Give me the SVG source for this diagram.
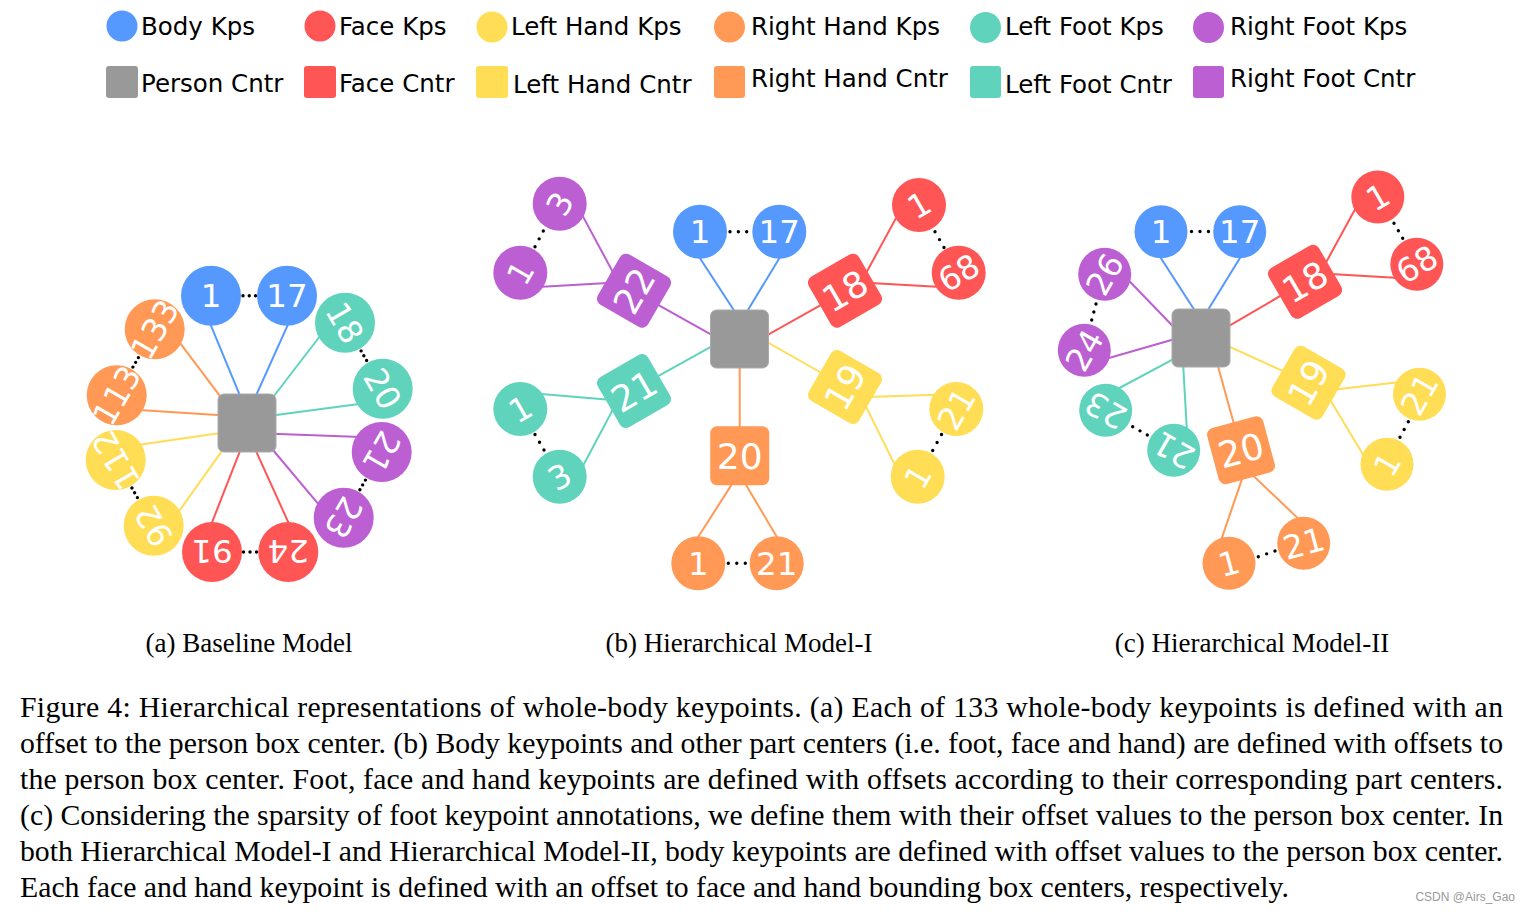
<svg xmlns="http://www.w3.org/2000/svg" width="1529" height="912" viewBox="0 0 1529 912">
<style>
.body{fill:#5599ff}.face{fill:#ff5555}.lh{fill:#ffdd55}.rh{fill:#ff9955}.lf{fill:#5fd3bc}.rf{fill:#bc5fd3}
.person{fill:#999999;stroke:#aaaaaa;stroke-width:1}
.c line{stroke-width:2;fill:none}
.sb{stroke:#5599ff}.sface{stroke:#ff5555}.slh{stroke:#ffdd55}.srh{stroke:#ff9955}.slf{stroke:#5fd3bc}.srf{stroke:#bc5fd3}
.dot{stroke:#000;stroke-width:3.4;stroke-linecap:round;stroke-dasharray:0 0.999;fill:none}
.lbl{font-family:"DejaVu Sans",sans-serif;fill:#fff;text-anchor:middle;font-size:32.5px}
.sl{font-size:36px}
.leg{font-family:"DejaVu Sans",sans-serif;font-size:24.5px;fill:#000}
.cap{font-family:"Liberation Serif","Times New Roman",serif;font-size:29.75px;fill:#000}
.sub{font-family:"Liberation Serif","Times New Roman",serif;font-size:27px;fill:#000;text-anchor:middle}
</style>

<!-- Legend -->
<g id="legend">
<circle cx="122" cy="26" r="15.5" class="body"/><text class="leg" x="141" y="35">Body Kps</text>
<circle cx="320" cy="26" r="15.5" class="face"/><text class="leg" x="339" y="35">Face Kps</text>
<circle cx="492" cy="27" r="15.5" class="lh"/><text class="leg" x="511" y="35">Left Hand Kps</text>
<circle cx="729.5" cy="27" r="15.5" class="rh"/><text class="leg" x="751" y="35">Right Hand Kps</text>
<circle cx="985.5" cy="27.5" r="15.5" class="lf"/><text class="leg" x="1005" y="35">Left Foot Kps</text>
<circle cx="1208.5" cy="27.5" r="15.5" class="rf"/><text class="leg" x="1230" y="35">Right Foot Kps</text>
<rect x="106" y="66" width="32" height="32" rx="3" fill="#999999"/><text class="leg" x="141" y="92">Person Cntr</text>
<rect x="304" y="66" width="32" height="32" rx="3" class="face"/><text class="leg" x="339" y="92">Face Cntr</text>
<rect x="476" y="66" width="32" height="32" rx="3" class="lh"/><text class="leg" x="513" y="93">Left Hand Cntr</text>
<rect x="714" y="66" width="31" height="32" rx="3" class="rh"/><text class="leg" x="751" y="87">Right Hand Cntr</text>
<rect x="970" y="66" width="31" height="32" rx="3" class="lf"/><text class="leg" x="1005" y="93">Left Foot Cntr</text>
<rect x="1193" y="66" width="31" height="32" rx="3" class="rf"/><text class="leg" x="1230" y="87">Right Foot Cntr</text>
</g>

<!-- Connectors -->
<g id="connectors" class="c">
<!-- (a) -->
<line class="sb" x1="208.2" y1="318.9" x2="243.5" y2="404.2"/>
<line class="sb" x1="290.4" y1="319.2" x2="252.1" y2="404.2"/>
<line class="slf" x1="322.8" y1="332.5" x2="266.6" y2="405.5"/>
<line class="slf" x1="364.7" y1="403.2" x2="264.7" y2="416.6"/>
<line class="srf" x1="361" y1="437" x2="265.2" y2="433.6"/>
<line class="srf" x1="321.6" y1="507.8" x2="267.9" y2="444"/>
<line class="sface" x1="291.5" y1="529.3" x2="252" y2="442.3"/>
<line class="sface" x1="209.3" y1="529.3" x2="243.4" y2="442.3"/>
<line class="slh" x1="175.9" y1="515.7" x2="226.8" y2="444.1"/>
<line class="slh" x1="134.1" y1="445.4" x2="229.1" y2="431.7"/>
<line class="srh" x1="135.2" y1="409.8" x2="229" y2="415.7"/>
<line class="srh" x1="177.1" y1="339.1" x2="225.9" y2="403.8"/>
<path class="dot" pathLength="2" d="M243 295.7L255.5 295.7"/>
<path class="dot" pathLength="2" d="M361.1 350.9L366.6 360.5"/>
<path class="dot" pathLength="2" d="M365.4 480.1L359.9 489.7"/>
<path class="dot" pathLength="2" d="M256.5 552L243.5 552"/>
<path class="dot" pathLength="2" d="M137.4 497.6L131.9 488"/>
<path class="dot" pathLength="2" d="M132.9 367.1L138.4 357.6"/>
<!-- (b) -->
<line class="sb" x1="696.7" y1="253.2" x2="738.3" y2="317"/>
<line class="sb" x1="782.4" y1="253.2" x2="743.7" y2="317"/>
<line class="srf" x1="655" y1="303.2" x2="717.5" y2="338.2"/>
<line class="sface" x1="824.3" y1="303.2" x2="761.8" y2="338.2"/>
<line class="slf" x1="655" y1="377.8" x2="717.5" y2="343.2"/>
<line class="slh" x1="824.3" y1="374.5" x2="761.8" y2="339"/>
<line class="srh" x1="739.7" y1="362" x2="739.7" y2="435"/>
<line class="srf" x1="581.2" y1="213.1" x2="615.9" y2="277.8"/>
<line class="srf" x1="538.1" y1="287" x2="612.2" y2="282.8"/>
<line class="sface" x1="898.8" y1="213.1" x2="863.5" y2="277.8"/>
<line class="sface" x1="941" y1="287" x2="866" y2="282.8"/>
<line class="slf" x1="538.1" y1="393.8" x2="612.2" y2="400"/>
<line class="slf" x1="581.2" y1="469.2" x2="615.9" y2="403.9"/>
<line class="slh" x1="937.4" y1="394.8" x2="866.5" y2="397"/>
<line class="slh" x1="897" y1="469.4" x2="863.7" y2="401.9"/>
<line class="srh" x1="695.1" y1="541.8" x2="735.6" y2="478.4"/>
<line class="srh" x1="779.7" y1="541.8" x2="742.2" y2="478.4"/>
<path class="dot" pathLength="2" d="M730 231.7L746.7 231.7"/>
<path class="dot" pathLength="2" d="M543.3 231L535 246.7"/>
<path class="dot" pathLength="2" d="M935 231.7L944 247.5"/>
<path class="dot" pathLength="2" d="M535 434.5L544 450"/>
<path class="dot" pathLength="2" d="M941.5 434.5L932.7 450.5"/>
<path class="dot" pathLength="2" d="M728.3 563.3L745.3 563.3"/>
<!-- (c) -->
<line class="sb" x1="1157.8" y1="253.3" x2="1198.1" y2="315.8"/>
<line class="sb" x1="1242.8" y1="253.3" x2="1204.4" y2="315.8"/>
<line class="srf" x1="1125.9" y1="277.5" x2="1176.8" y2="330.3"/>
<line class="srf" x1="1103.8" y1="359.5" x2="1181" y2="337.3"/>
<line class="slf" x1="1114.8" y1="390.5" x2="1179.5" y2="355.8"/>
<line class="slf" x1="1187" y1="432.6" x2="1182.8" y2="358.4"/>
<line class="srh" x1="1234.8" y1="427.1" x2="1216" y2="359.1"/>
<line class="slh" x1="1285.7" y1="372.3" x2="1223.2" y2="343.9"/>
<line class="sface" x1="1283.8" y1="293.9" x2="1223.5" y2="329.2"/>
<line class="sface" x1="1357" y1="205.8" x2="1323.3" y2="267.4"/>
<line class="sface" x1="1399.1" y1="278" x2="1326.3" y2="273.8"/>
<line class="slh" x1="1400.6" y1="382.1" x2="1330.6" y2="390"/>
<line class="slh" x1="1365.7" y1="459.1" x2="1327.7" y2="395.7"/>
<line class="srh" x1="1219.8" y1="543.9" x2="1243.6" y2="474.4"/>
<line class="srh" x1="1301.4" y1="521.6" x2="1249.8" y2="472.4"/>
<path class="dot" pathLength="2" d="M1191.5 231.5L1208.5 231.5"/>
<path class="dot" pathLength="2" d="M1096 304L1091.7 320"/>
<path class="dot" pathLength="2" d="M1132.7 426.7L1147.3 435"/>
<path class="dot" pathLength="2" d="M1258.3 556.7L1275 551"/>
<path class="dot" pathLength="2" d="M1408.3 421.7L1400 437.3"/>
<path class="dot" pathLength="2" d="M1394 223.3L1402.7 238.3"/>
</g>

<!-- (a) Baseline Model nodes -->
<g id="a-person"><rect x="218" y="394" width="58" height="58" rx="6" class="person"/></g>
<g id="a-body-1"><circle cx="211" cy="295.7" r="30" class="body"/><text class="lbl" x="211" y="295.7" dy=".36em">1</text></g>
<g id="a-body-17"><circle cx="287" cy="295.7" r="30" class="body"/><text class="lbl" x="287" y="295.7" dy=".36em">17</text></g>
<g id="a-lf-18"><circle cx="345" cy="322.7" r="30" class="lf"/><text class="lbl" x="345" y="322.7" dy=".36em" transform="rotate(60 345 322.7)">18</text></g>
<g id="a-lf-20"><circle cx="382.7" cy="388.7" r="30" class="lf"/><text class="lbl" x="382.7" y="388.7" dy=".36em" transform="rotate(60 382.7 388.7)">20</text></g>
<g id="a-rf-21"><circle cx="381.7" cy="452" r="30" class="rf"/><text class="lbl" x="381.7" y="452" dy=".36em" transform="rotate(120 381.7 452)">21</text></g>
<g id="a-rf-23"><circle cx="343.7" cy="517.7" r="30" class="rf"/><text class="lbl" x="343.7" y="517.7" dy=".36em" transform="rotate(120 343.7 517.7)">23</text></g>
<g id="a-face-24"><circle cx="288.3" cy="552" r="30" class="face"/><text class="lbl" x="288.3" y="552" dy=".36em" transform="rotate(180 288.3 552)">24</text></g>
<g id="a-face-91"><circle cx="212" cy="552" r="30" class="face"/><text class="lbl" x="212" y="552" dy=".36em" transform="rotate(180 212 552)">91</text></g>
<g id="a-lh-92"><circle cx="153.7" cy="525.7" r="30" class="lh"/><text class="lbl" x="153.7" y="525.7" dy=".36em" transform="rotate(240 153.7 525.7)">92</text></g>
<g id="a-lh-112"><circle cx="115.7" cy="460" r="30" class="lh"/><text class="lbl" x="115.7" y="460" dy=".36em" transform="rotate(240 115.7 460)">112</text></g>
<g id="a-rh-113"><circle cx="116.7" cy="395.3" r="30" class="rh"/><text class="lbl" x="116.7" y="395.3" dy=".36em" transform="rotate(300 116.7 395.3)">113</text></g>
<g id="a-rh-133"><circle cx="154.7" cy="329.3" r="30" class="rh"/><text class="lbl" x="154.7" y="329.3" dy=".36em" transform="rotate(300 154.7 329.3)">133</text></g>

<!-- (b) Hierarchical Model-I nodes -->
<g id="b-person"><rect x="710.5" y="310" width="58" height="58" rx="6" class="person"/></g>
<g id="b-body-1"><circle cx="700" cy="231.7" r="27" class="body"/><text class="lbl" x="700" y="231.7" dy=".36em">1</text></g>
<g id="b-body-17"><circle cx="779.3" cy="231.7" r="27" class="body"/><text class="lbl" x="779.3" y="231.7" dy=".36em">17</text></g>
<g id="b-rf-cntr" transform="translate(634 290.7) rotate(-60)"><rect x="-29" y="-29" width="58" height="58" rx="7" class="rf"/><text class="lbl sl" x="0" y="0" dy=".36em">22</text></g>
<g id="b-rf-3"><circle cx="559.7" cy="203.7" r="27" class="rf"/><text class="lbl" x="559.7" y="203.7" dy=".36em" transform="rotate(-60 559.7 203.7)">3</text></g>
<g id="b-rf-1"><circle cx="520.3" cy="272.7" r="27" class="rf"/><text class="lbl" x="520.3" y="272.7" dy=".36em" transform="rotate(-60 520.3 272.7)">1</text></g>
<g id="b-face-cntr" transform="translate(845 290.7) rotate(-30)"><rect x="-29" y="-29" width="58" height="58" rx="7" class="face"/><text class="lbl sl" x="0" y="0" dy=".36em">18</text></g>
<g id="b-face-1"><circle cx="919" cy="205" r="27" class="face"/><text class="lbl" x="919" y="205" dy=".36em" transform="rotate(-30 919 205)">1</text></g>
<g id="b-face-68"><circle cx="958.7" cy="272.7" r="27" class="face"/><text class="lbl" x="958.7" y="272.7" dy=".36em" transform="rotate(-30 958.7 272.7)">68</text></g>
<g id="b-lf-cntr" transform="translate(634 391) rotate(-30)"><rect x="-29" y="-29" width="58" height="58" rx="7" class="lf"/><text class="lbl sl" x="0" y="0" dy=".36em">21</text></g>
<g id="b-lf-1"><circle cx="520.3" cy="409" r="27" class="lf"/><text class="lbl" x="520.3" y="409" dy=".36em" transform="rotate(-30 520.3 409)">1</text></g>
<g id="b-lf-3"><circle cx="559.7" cy="476.7" r="27" class="lf"/><text class="lbl" x="559.7" y="476.7" dy=".36em" transform="rotate(-30 559.7 476.7)">3</text></g>
<g id="b-lh-cntr" transform="translate(845 387) rotate(-60)"><rect x="-29" y="-29" width="58" height="58" rx="7" class="lh"/><text class="lbl sl" x="0" y="0" dy=".36em">19</text></g>
<g id="b-lh-21"><circle cx="956.3" cy="409" r="27" class="lh"/><text class="lbl" x="956.3" y="409" dy=".36em" transform="rotate(-60 956.3 409)">21</text></g>
<g id="b-lh-1"><circle cx="917.7" cy="476.7" r="27" class="lh"/><text class="lbl" x="917.7" y="476.7" dy=".36em" transform="rotate(-60 917.7 476.7)">1</text></g>
<g id="b-rh-cntr" transform="translate(739.7 455.7)"><rect x="-29.5" y="-29.5" width="59" height="59" rx="7" class="rh"/><text class="lbl sl" x="0" y="0" dy=".36em">20</text></g>
<g id="b-rh-1"><circle cx="698.3" cy="563.3" r="27" class="rh"/><text class="lbl" x="698.3" y="563.3" dy=".36em">1</text></g>
<g id="b-rh-21"><circle cx="776.7" cy="563.3" r="27" class="rh"/><text class="lbl" x="776.7" y="563.3" dy=".36em">21</text></g>

<!-- (c) Hierarchical Model-II nodes -->
<g id="c-person"><rect x="1172" y="309" width="58" height="58" rx="6" class="person"/></g>
<g id="c-body-1"><circle cx="1161" cy="231.7" r="26.5" class="body"/><text class="lbl" x="1161" y="231.7" dy=".36em">1</text></g>
<g id="c-body-17"><circle cx="1239.7" cy="231.7" r="26.5" class="body"/><text class="lbl" x="1239.7" y="231.7" dy=".36em">17</text></g>
<g id="c-rf-26"><circle cx="1104.7" cy="274.3" r="26.5" class="rf"/><text class="lbl" x="1104.7" y="274.3" dy=".36em" transform="rotate(-60 1104.7 274.3)">26</text></g>
<g id="c-rf-24"><circle cx="1084.3" cy="350.3" r="26.5" class="rf"/><text class="lbl" x="1084.3" y="350.3" dy=".36em" transform="rotate(-60 1084.3 350.3)">24</text></g>
<g id="c-lf-23"><circle cx="1105.7" cy="410.3" r="26.5" class="lf"/><text class="lbl" x="1105.7" y="410.3" dy=".36em" transform="rotate(210 1105.7 410.3)">23</text></g>
<g id="c-lf-21"><circle cx="1173.7" cy="450.3" r="26.5" class="lf"/><text class="lbl" x="1173.7" y="450.3" dy=".36em" transform="rotate(210 1173.7 450.3)">21</text></g>
<g id="c-rh-cntr" transform="translate(1241 450.3) rotate(-15)"><rect x="-29" y="-29" width="58" height="58" rx="7" class="rh"/><text class="lbl sl" x="0" y="0" dy=".36em">20</text></g>
<g id="c-rh-1"><circle cx="1229" cy="563.3" r="26.5" class="rh"/><text class="lbl" x="1229" y="563.3" dy=".36em" transform="rotate(-15 1229 563.3)">1</text></g>
<g id="c-rh-21"><circle cx="1303.7" cy="543.3" r="26.5" class="rh"/><text class="lbl" x="1303.7" y="543.3" dy=".36em" transform="rotate(-15 1303.7 543.3)">21</text></g>
<g id="c-lh-cntr" transform="translate(1308.5 382.7) rotate(-60)"><rect x="-29" y="-29" width="58" height="58" rx="7" class="lh"/><text class="lbl sl" x="0" y="0" dy=".36em">19</text></g>
<g id="c-lh-21"><circle cx="1419.5" cy="394.2" r="26.5" class="lh"/><text class="lbl" x="1419.5" y="394.2" dy=".36em" transform="rotate(-60 1419.5 394.2)">21</text></g>
<g id="c-lh-1"><circle cx="1387" cy="464.3" r="26.5" class="lh"/><text class="lbl" x="1387" y="464.3" dy=".36em" transform="rotate(-60 1387 464.3)">1</text></g>
<g id="c-face-cntr" transform="translate(1305 281.8) rotate(-30)"><rect x="-29" y="-29" width="58" height="58" rx="7" class="face"/><text class="lbl sl" x="0" y="0" dy=".36em">18</text></g>
<g id="c-face-1"><circle cx="1377.8" cy="197" r="26.5" class="face"/><text class="lbl" x="1377.8" y="197" dy=".36em" transform="rotate(-30 1377.8 197)">1</text></g>
<g id="c-face-68"><circle cx="1416.8" cy="264.2" r="26.5" class="face"/><text class="lbl" x="1416.8" y="264.2" dy=".36em" transform="rotate(-30 1416.8 264.2)">68</text></g>

<!-- Sub captions -->
<text class="sub" x="249" y="652">(a) Baseline Model</text>
<text class="sub" x="739" y="652">(b) Hierarchical Model-I</text>
<text class="sub" x="1252" y="652">(c) Hierarchical Model-II</text>

<!-- Caption -->
<g id="caption" class="cap">
<text x="20" y="717" textLength="1483" lengthAdjust="spacing">Figure 4: Hierarchical representations of whole-body keypoints. (a) Each of 133 whole-body keypoints is defined with an</text>
<text x="20" y="753" textLength="1483" lengthAdjust="spacing">offset to the person box center. (b) Body keypoints and other part centers (i.e. foot, face and hand) are defined with offsets to</text>
<text x="20" y="789" textLength="1483" lengthAdjust="spacing">the person box center. Foot, face and hand keypoints are defined with offsets according to their corresponding part centers.</text>
<text x="20" y="825" textLength="1483" lengthAdjust="spacing">(c) Considering the sparsity of foot keypoint annotations, we define them with their offset values to the person box center. In</text>
<text x="20" y="861" textLength="1483" lengthAdjust="spacing">both Hierarchical Model-I and Hierarchical Model-II, body keypoints are defined with offset values to the person box center.</text>
<text x="20" y="897">Each face and hand keypoint is defined with an offset to face and hand bounding box centers, respectively.</text>
</g>
<text x="1515" y="901" text-anchor="end" font-family="Liberation Sans, sans-serif" font-size="12" fill="#999999">CSDN @Airs_Gao</text>
</svg>
